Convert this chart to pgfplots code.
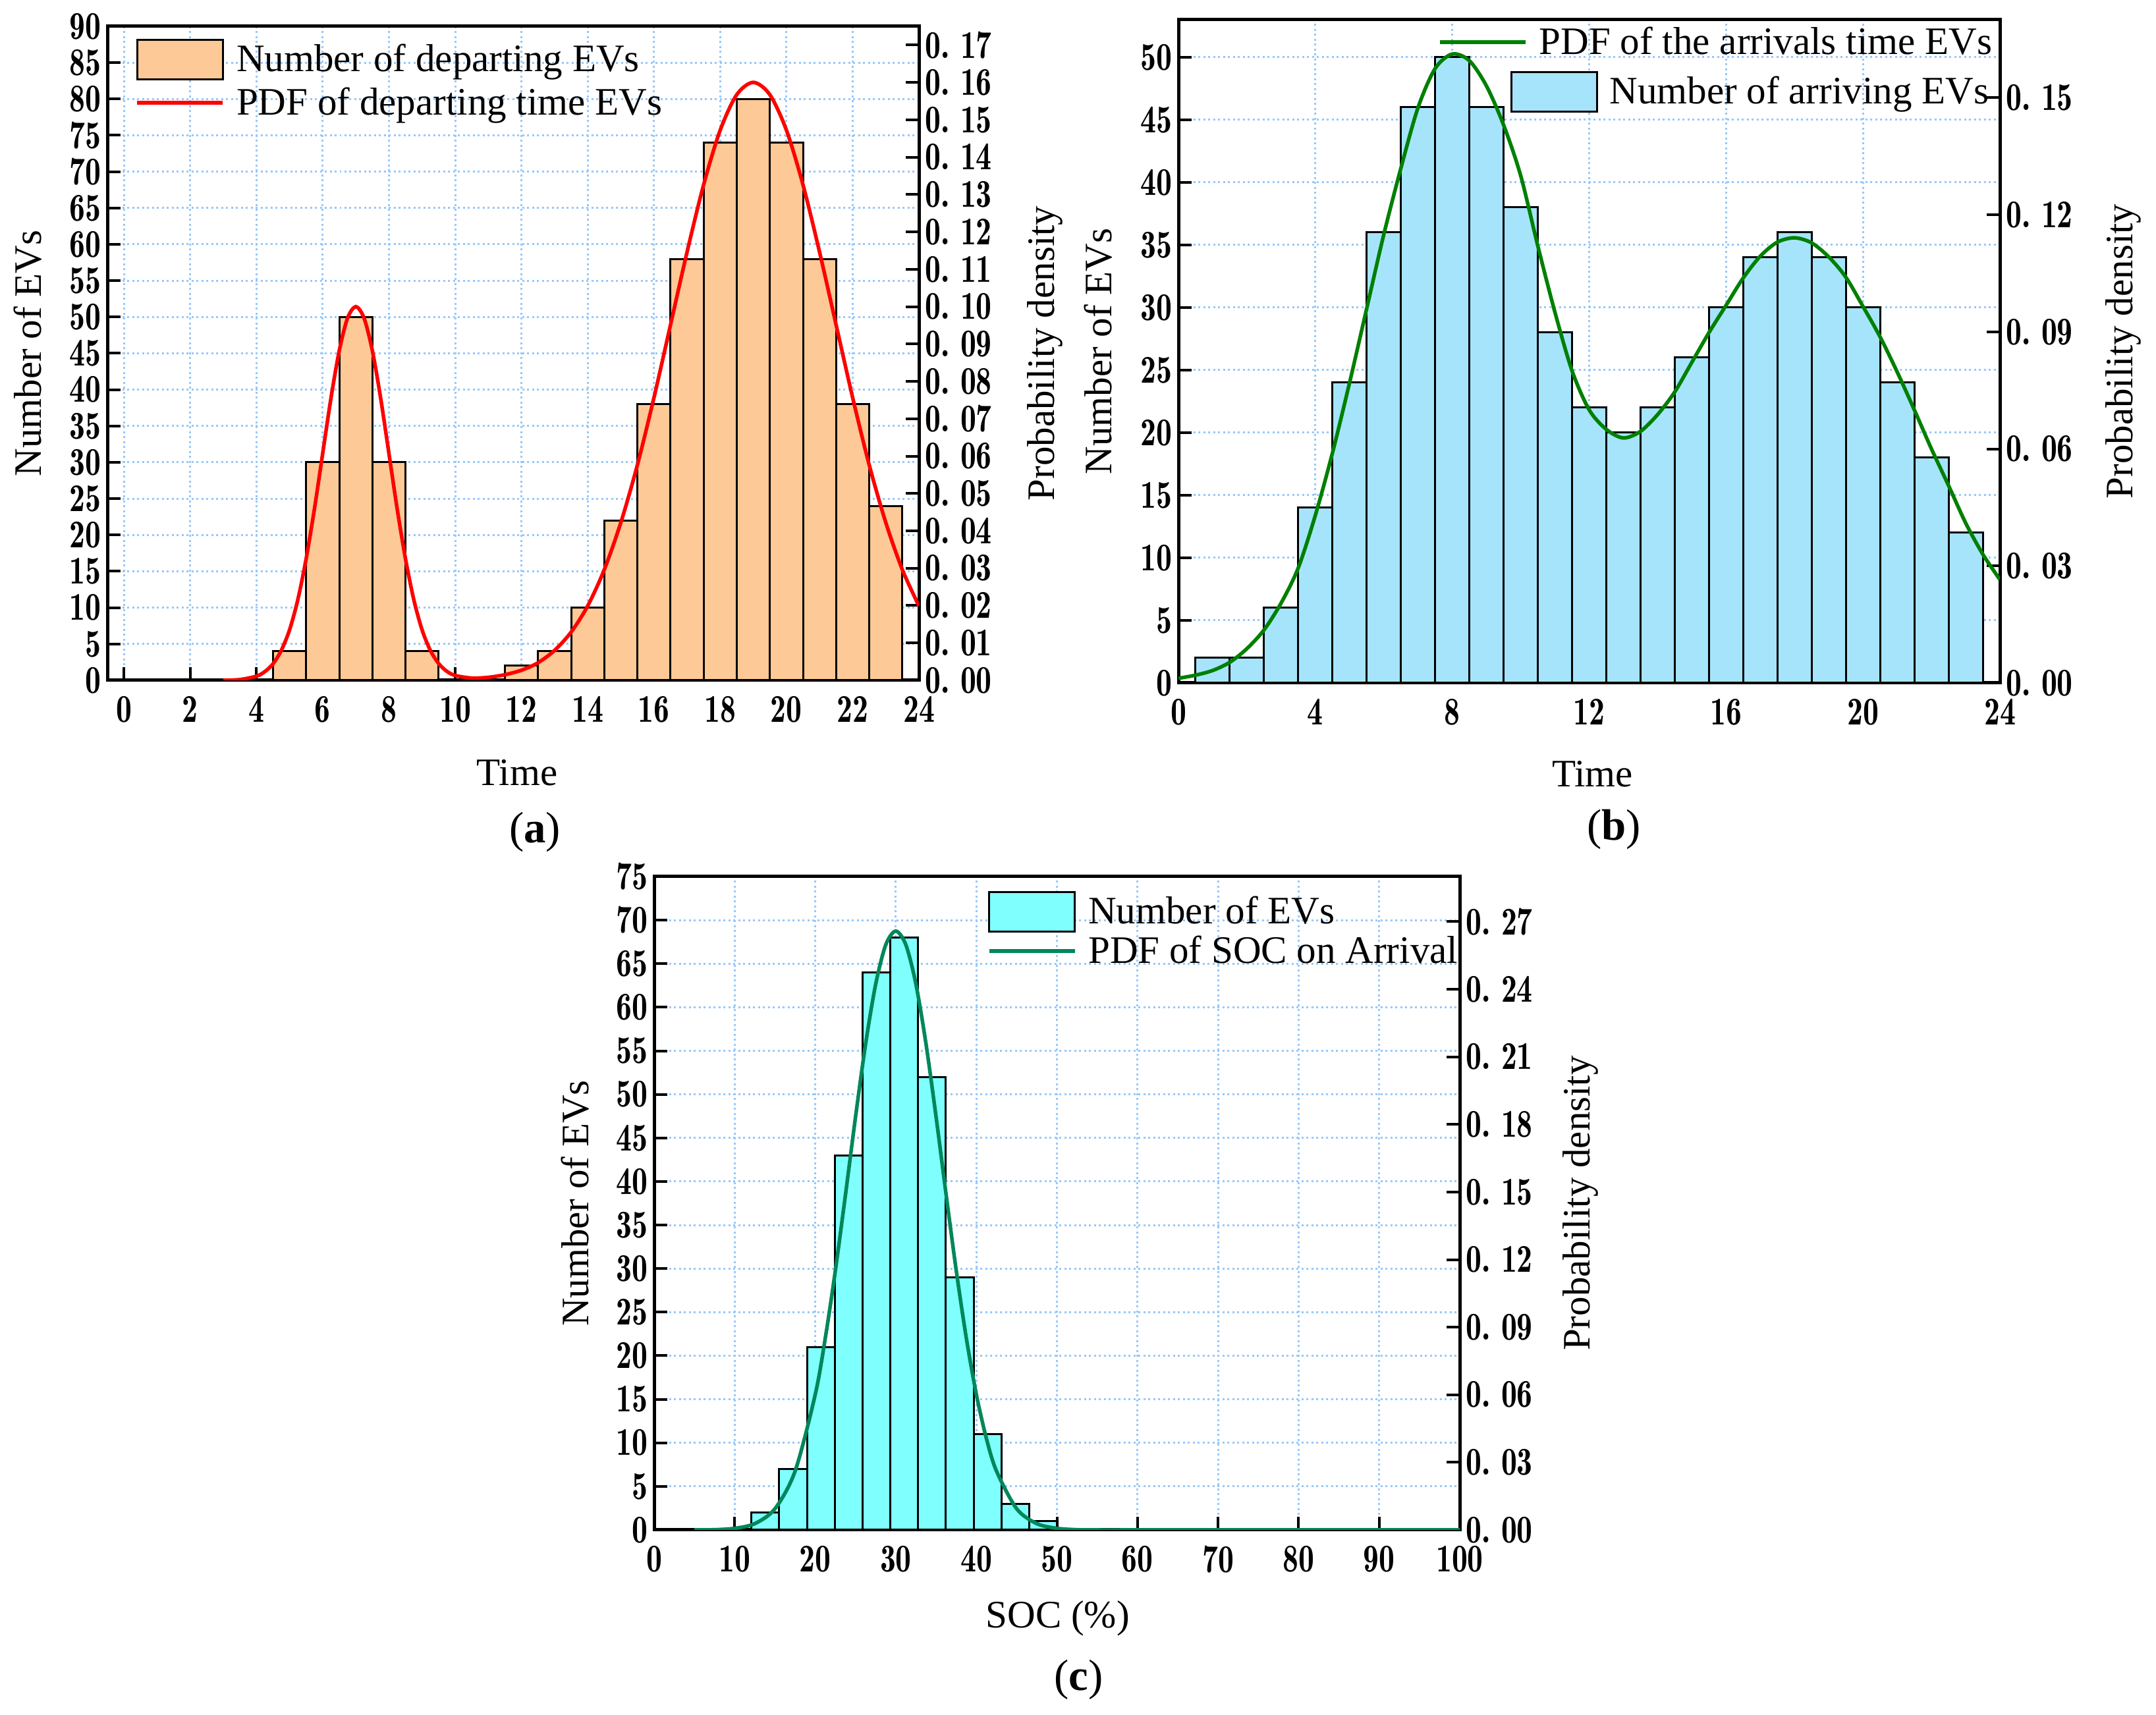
\documentclass[border=0pt]{standalone}
\usepackage[no-math]{fontspec}
\setmainfont{Liberation Serif}
\usepackage{pgfplots}
\usepackage{pgfplotstable}
\pgfplotsset{compat=1.18}

\definecolor{gridblue}{RGB}{150,200,250}
\definecolor{peach}{RGB}{253,201,150}
\definecolor{skyb}{RGB}{166,228,252}
\definecolor{aqua}{RGB}{128,255,255}
\definecolor{pdfgreen}{RGB}{0,128,0}
\definecolor{socgreen}{RGB}{0,135,90}

\newcommand\txt{\fontsize{16.8}{19}\selectfont}
\newcommand\tck{\fontfamily{lmr}\bfseries\fontsize{17}{17}\selectfont}

% histogram bins: left edge, count (last row closes the interval)
\pgfplotstableread{
x    n
4.5  4
5.5  30
6.5  50
7.5  30
8.5  4
9.5  0
10.5 0
11.5 2
12.5 4
13.5 10
14.5 22
15.5 38
16.5 58
17.5 74
18.5 80
19.5 74
20.5 58
21.5 38
22.5 24
23.5 0
}\departing

\pgfplotstableread{
x    n
0.5  2
1.5  2
2.5  6
3.5  14
4.5  24
5.5  36
6.5  46
7.5  50
8.5  46
9.5  38
10.5 28
11.5 22
12.5 20
13.5 22
14.5 26
15.5 30
16.5 34
17.5 36
18.5 34
19.5 30
20.5 24
21.5 18
22.5 12
23.5 0
}\arriving

\pgfplotstableread{
x     n
12.07 2
15.52 7
18.97 21
22.41 43
25.86 64
29.31 68
32.76 52
36.21 29
39.66 11
43.10 3
46.55 1
50.00 0
}\soc

\pgfplotsset{
  evs/.style={
    scale only axis,
    clip mode=individual,
    axis line style={line width=0.5mm},
    tick align=inside,
    major tick length=2mm,
    tick style={black, line width=0.4mm},
    tick label style={font=\tck, xscale=0.8},
    /pgf/number format/assume math mode=true,
    label style={font=\txt},
    legend cell align=left,
    legend style={font=\txt, draw=none, fill=none, inner sep=0pt,
      nodes={inner sep=0pt},
      /tikz/every odd column/.style={column sep=1.8mm}},
  },
  cnt/.style={evs, xtick pos=bottom, ytick pos=left,
    grid=major,
    major grid style={gridblue, line width=0.3mm, dash pattern=on 0.3mm off 0.45mm},
    ylabel={Number of EVs}},
  pdf/.style={evs, axis y line*=right, axis x line=none,
    ylabel={Probability density}, ymin=0},
  barleg/.style={legend image code/.code={\draw[##1] (0mm,-3mm) rectangle (13mm,3mm);}},
  lineleg/.style={legend image code/.code={\draw[##1] (0mm,0mm) -- (13mm,0mm);}},
}

\begin{document}
\begin{tikzpicture}
\path[use as bounding box] (0,0) rectangle (32.73cm,26.04cm);

% ---------------- (a) departing
\begin{axis}[cnt, at={(1.63cm,15.71cm)}, anchor=south west,
  width=123.2mm, height=99.3mm,
  xmin=-0.5, xmax=24, ymin=0, ymax=90,
  xtick={0,2,...,24}, ytick={0,5,...,90},
  xticklabel style={yshift=-1.2mm},
  xlabel={Time},
  xlabel style={at={(axis description cs:0.505,-0.141)}, anchor=center},
  ylabel style={at={(axis description cs:-0.098,0.5)}, anchor=center},
  legend style={at={(axis description cs:0.034,0.982)}, anchor=north west, row sep=1.1mm},
  ]
  \addplot[ybar interval, fill=peach, draw=black, line width=0.3mm, barleg] table[x=x, y=n] {\departing};
  \addlegendentry{Number of departing EVs}
  \addlegendimage{red, line width=0.55mm, lineleg}
  \addlegendentry{PDF of departing time EVs}
  \node[font=\fontsize{19}{21}\selectfont] at (axis description cs:0.527,-0.232) {(\textbf{a})};
\end{axis}
\begin{axis}[pdf, at={(1.63cm,15.71cm)}, anchor=south west,
  width=123.2mm, height=99.3mm,
  xmin=-0.5, xmax=24, ymax=0.175,
  ytick={0,0.01,0.02,0.03,0.04,0.05,0.06,0.07,0.08,0.09,0.10,0.11,0.12,0.13,0.14,0.15,0.16,0.17},
  yticklabels={0.\ 00,0.\ 01,0.\ 02,0.\ 03,0.\ 04,0.\ 05,0.\ 06,0.\ 07,0.\ 08,0.\ 09,0.\ 10,0.\ 11,0.\ 12,0.\ 13,0.\ 14,0.\ 15,0.\ 16,0.\ 17},
  ylabel style={at={(axis description cs:1.155,0.5)}, anchor=center},
  ]
  \addplot[red, line width=0.55mm, smooth] coordinates {
    (3,0.0000) (3.5,0.0002) (4,0.0011) (4.25,0.0023) (4.5,0.0044) (4.75,0.0080)
    (5,0.0135) (5.25,0.0216) (5.5,0.0325) (5.75,0.0458) (6,0.0607) (6.25,0.0755)
    (6.5,0.0882) (6.75,0.0969) (7,0.1000) (7.25,0.0969) (7.5,0.0882) (7.75,0.0755)
    (8,0.0607) (8.25,0.0458) (8.5,0.0325) (8.75,0.0216) (9,0.0135) (9.25,0.0080)
    (9.5,0.0045) (9.75,0.0024) (10,0.0013) (10.5,0.0006) (11,0.0008) (11.5,0.0015)
    (12,0.0027) (12.5,0.0047) (13,0.0080) (13.5,0.0129) (14,0.0199) (14.5,0.0296)
    (15,0.0422) (15.5,0.0576) (16,0.0756) (16.5,0.0951) (17,0.1146) (17.5,0.1326)
    (18,0.1472) (18.5,0.1567) (19,0.1600) (19.5,0.1567) (20,0.1472) (20.5,0.1326)
    (21,0.1146) (21.5,0.0951) (22,0.0756) (22.5,0.0576) (23,0.0422) (23.5,0.0296)
    (24,0.0199)
  };
\end{axis}

% ---------------- (b) arriving
\begin{axis}[cnt, at={(17.89cm,15.67cm)}, anchor=south west,
  width=124.7mm, height=100.7mm,
  xmin=0, xmax=24, ymin=0, ymax=53,
  xtick={0,4,...,24}, ytick={0,5,...,50},
  xticklabel style={yshift=-1.2mm},
  xlabel={Time},
  xlabel style={at={(axis description cs:0.504,-0.137)}, anchor=center},
  ylabel style={at={(axis description cs:-0.098,0.5)}, anchor=center},
  legend style={at={(axis description cs:0.987,0.891)}, anchor=east},
  ]
  \addplot[ybar interval, fill=skyb, draw=black, line width=0.3mm, barleg] table[x=x, y=n] {\arriving};
  \addlegendentry{Number of arriving EVs}
  \node[font=\fontsize{19}{21}\selectfont] at (axis description cs:0.530,-0.221) {(\textbf{b})};
\end{axis}
\begin{axis}[pdf, at={(17.89cm,15.67cm)}, anchor=south west,
  width=124.7mm, height=100.7mm,
  xmin=0, xmax=24, ymax=0.17,
  ytick={0,0.03,0.06,0.09,0.12,0.15},
  yticklabels={0.\ 00,0.\ 03,0.\ 06,0.\ 09,0.\ 12,0.\ 15},
  ylabel style={at={(axis description cs:1.150,0.5)}, anchor=center},
  legend style={at={(axis description cs:0.991,0.966)}, anchor=east},
  ]
  \addplot[pdfgreen, line width=0.55mm, smooth, lineleg] coordinates {
    (0,0.0012) (0.5,0.0020) (1,0.0032) (1.5,0.0053) (2,0.0088) (2.5,0.0136)
    (3,0.0205) (3.5,0.0295) (4,0.0430) (4.5,0.0590) (5,0.0770) (5.5,0.0960)
    (6,0.1150) (6.5,0.1320) (7,0.1475) (7.5,0.1575) (8,0.1612) (8.5,0.1595)
    (9,0.1530) (9.5,0.1430) (10,0.1300) (10.5,0.1120) (11,0.0950) (11.5,0.0800)
    (12,0.0700) (12.5,0.0650) (13,0.0628) (13.5,0.0645) (14,0.0688) (14.5,0.0746)
    (15,0.0822) (15.5,0.0898) (16,0.0968) (16.5,0.1038) (17,0.1094) (17.5,0.1130)
    (18,0.1141) (18.5,0.1128) (19,0.1092) (19.5,0.1040) (20,0.0965) (20.5,0.0887)
    (21,0.0797) (21.5,0.0700) (22,0.0600) (22.5,0.0506) (23,0.0410) (23.5,0.0330)
    (24,0.0265)
  };
  \addlegendentry{PDF of the arrivals time EVs}
\end{axis}

% ---------------- (c) SOC on arrival
\begin{axis}[cnt, at={(9.93cm,2.81cm)}, anchor=south west,
  width=122.3mm, height=99.2mm,
  xmin=0, xmax=100, ymin=0, ymax=75,
  xtick={0,10,...,100}, ytick={0,5,...,75},
  xticklabel style={yshift=-1.2mm},
  xlabel={SOC (\%)},
  xlabel style={at={(axis description cs:0.501,-0.135)}, anchor=center},
  ylabel style={at={(axis description cs:-0.098,0.5)}, anchor=center},
  legend style={at={(axis description cs:0.413,0.979)}, anchor=north west, row sep=0.5mm},
  ]
  \addplot[ybar interval, fill=aqua, draw=black, line width=0.3mm, barleg] table[x=x, y=n] {\soc};
  \addlegendentry{Number of EVs}
  \addlegendimage{socgreen, line width=0.55mm, lineleg}
  \addlegendentry{PDF of SOC on Arrival}
  \node[font=\fontsize{19}{21}\selectfont] at (axis description cs:0.527,-0.229) {(\textbf{c})};
\end{axis}
\begin{axis}[pdf, at={(9.93cm,2.81cm)}, anchor=south west,
  width=122.3mm, height=99.2mm,
  xmin=0, xmax=100, ymax=0.29,
  ytick={0,0.03,0.06,0.09,0.12,0.15,0.18,0.21,0.24,0.27},
  yticklabels={0.\ 00,0.\ 03,0.\ 06,0.\ 09,0.\ 12,0.\ 15,0.\ 18,0.\ 21,0.\ 24,0.\ 27},
  ylabel style={at={(axis description cs:1.150,0.5)}, anchor=center},
  ]
  \addplot[socgreen, line width=0.55mm, smooth] coordinates {
    (5,0.0000) (7.5,0.0001) (10,0.0007) (12.5,0.0028) (15,0.0094) (17.5,0.0261)
    (20,0.0601) (21.25,0.0852) (22.5,0.1152) (23.75,0.1487) (25,0.1833)
    (26.25,0.2157) (27.5,0.2422) (28.75,0.2597) (30,0.2658) (31.25,0.2597)
    (32.5,0.2422) (33.75,0.2157) (35,0.1833) (36.25,0.1487) (37.5,0.1152)
    (38.75,0.0852) (40,0.0601) (41.25,0.0405) (42.5,0.0261) (45,0.0094)
    (47.5,0.0028) (50,0.0007) (52.5,0.0001) (55,0.0000) (60,0.0000)
    (70,0.0000) (80,0.0000) (90,0.0000) (100,0.0000)
  };
\end{axis}
\end{tikzpicture}
\end{document}
